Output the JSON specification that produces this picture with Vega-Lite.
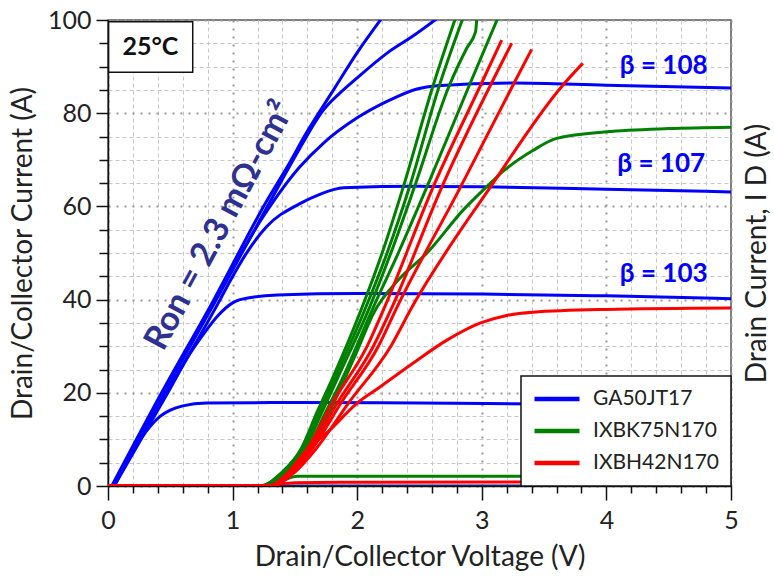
{
  "$schema": "https://vega.github.io/schema/vega-lite/v6.json",
  "width": 623,
  "height": 466,
  "autosize": {"type": "none"},
  "padding": {"left": 108, "top": 20, "right": 43, "bottom": 95},
  "background": "white",
  "config": {
    "font": "Lato",
    "view": {"stroke": "#555555", "strokeWidth": 1.5},
    "axis": {
      "labelFont": "Lato", "labelFontSize": 25, "labelColor": "#222222",
      "titleFont": "Lato", "titleFontSize": 28, "titleFontWeight": "normal", "titleColor": "#222222",
      "domainColor": "#111111", "domainWidth": 1.5, "tickColor": "#111111", "tickWidth": 1.5,
      "labelOverlap": false, "labelFlush": false
    },
    "legend": {"strokeWidth": 1.5}
  },
  "datasets": {
    "off": [{"x": 0, "y": 0.05}, {"x": 5, "y": 0.05}],
    "curves": [
      {"d": "GA50JT17", "c": "B1", "x": 0.05, "y": 0}, {"d": "GA50JT17", "c": "B1", "x": 0.3, "y": 11.5}, {"d": "GA50JT17", "c": "B1", "x": 0.42, "y": 15}, {"d": "GA50JT17", "c": "B1", "x": 0.5, "y": 16.3}, {"d": "GA50JT17", "c": "B1", "x": 0.6, "y": 17.2}, {"d": "GA50JT17", "c": "B1", "x": 0.79, "y": 17.8}, {"d": "GA50JT17", "c": "B1", "x": 1.5, "y": 17.9}, {"d": "GA50JT17", "c": "B1", "x": 2.5, "y": 17.8}, {"d": "GA50JT17", "c": "B1", "x": 3.5, "y": 17.6}, {"d": "GA50JT17", "c": "B1", "x": 5, "y": 17.4},
      {"d": "GA50JT17", "c": "B2", "x": 0.05, "y": 0}, {"d": "GA50JT17", "c": "B2", "x": 0.48, "y": 20}, {"d": "GA50JT17", "c": "B2", "x": 0.66, "y": 28.5}, {"d": "GA50JT17", "c": "B2", "x": 0.75, "y": 32}, {"d": "GA50JT17", "c": "B2", "x": 0.88, "y": 36.5}, {"d": "GA50JT17", "c": "B2", "x": 1.0, "y": 39.3}, {"d": "GA50JT17", "c": "B2", "x": 1.06, "y": 40}, {"d": "GA50JT17", "c": "B2", "x": 1.36, "y": 41}, {"d": "GA50JT17", "c": "B2", "x": 2, "y": 41.3}, {"d": "GA50JT17", "c": "B2", "x": 3, "y": 41.2}, {"d": "GA50JT17", "c": "B2", "x": 4, "y": 40.8}, {"d": "GA50JT17", "c": "B2", "x": 5, "y": 40.2},
      {"d": "GA50JT17", "c": "B3", "x": 0.04, "y": 0}, {"d": "GA50JT17", "c": "B3", "x": 0.47, "y": 20}, {"d": "GA50JT17", "c": "B3", "x": 0.9, "y": 40}, {"d": "GA50JT17", "c": "B3", "x": 0.98, "y": 44}, {"d": "GA50JT17", "c": "B3", "x": 1.1, "y": 49.5}, {"d": "GA50JT17", "c": "B3", "x": 1.27, "y": 55.6}, {"d": "GA50JT17", "c": "B3", "x": 1.54, "y": 60.6}, {"d": "GA50JT17", "c": "B3", "x": 1.7, "y": 62.6}, {"d": "GA50JT17", "c": "B3", "x": 1.89, "y": 64}, {"d": "GA50JT17", "c": "B3", "x": 2.5, "y": 64.3}, {"d": "GA50JT17", "c": "B3", "x": 3, "y": 64.2}, {"d": "GA50JT17", "c": "B3", "x": 4, "y": 63.7}, {"d": "GA50JT17", "c": "B3", "x": 5, "y": 63.1},
      {"d": "GA50JT17", "c": "B4", "x": 0.04, "y": 0}, {"d": "GA50JT17", "c": "B4", "x": 0.44, "y": 20}, {"d": "GA50JT17", "c": "B4", "x": 0.86, "y": 40}, {"d": "GA50JT17", "c": "B4", "x": 1.25, "y": 58}, {"d": "GA50JT17", "c": "B4", "x": 1.54, "y": 68.5}, {"d": "GA50JT17", "c": "B4", "x": 1.73, "y": 73.6}, {"d": "GA50JT17", "c": "B4", "x": 2, "y": 79}, {"d": "GA50JT17", "c": "B4", "x": 2.26, "y": 82.8}, {"d": "GA50JT17", "c": "B4", "x": 2.48, "y": 85.2}, {"d": "GA50JT17", "c": "B4", "x": 2.64, "y": 85.9}, {"d": "GA50JT17", "c": "B4", "x": 3.25, "y": 86.5}, {"d": "GA50JT17", "c": "B4", "x": 4, "y": 86}, {"d": "GA50JT17", "c": "B4", "x": 5, "y": 85.4},
      {"d": "GA50JT17", "c": "B5", "x": 0.04, "y": 0}, {"d": "GA50JT17", "c": "B5", "x": 0.45, "y": 20}, {"d": "GA50JT17", "c": "B5", "x": 0.87, "y": 40}, {"d": "GA50JT17", "c": "B5", "x": 1.3, "y": 61}, {"d": "GA50JT17", "c": "B5", "x": 1.54, "y": 72.5}, {"d": "GA50JT17", "c": "B5", "x": 1.73, "y": 80.7}, {"d": "GA50JT17", "c": "B5", "x": 1.86, "y": 84.3}, {"d": "GA50JT17", "c": "B5", "x": 2, "y": 87.6}, {"d": "GA50JT17", "c": "B5", "x": 2.24, "y": 92.9}, {"d": "GA50JT17", "c": "B5", "x": 2.45, "y": 96.6}, {"d": "GA50JT17", "c": "B5", "x": 2.64, "y": 100.3},
      {"d": "GA50JT17", "c": "B6", "x": 0.03, "y": 0}, {"d": "GA50JT17", "c": "B6", "x": 0.43, "y": 20}, {"d": "GA50JT17", "c": "B6", "x": 0.85, "y": 40}, {"d": "GA50JT17", "c": "B6", "x": 1.27, "y": 61}, {"d": "GA50JT17", "c": "B6", "x": 1.46, "y": 69.5}, {"d": "GA50JT17", "c": "B6", "x": 1.59, "y": 75.7}, {"d": "GA50JT17", "c": "B6", "x": 1.81, "y": 85}, {"d": "GA50JT17", "c": "B6", "x": 2, "y": 93}, {"d": "GA50JT17", "c": "B6", "x": 2.2, "y": 100.5},
      {"d": "IXBK75N170", "c": "G6", "x": 0, "y": 0}, {"d": "IXBK75N170", "c": "G6", "x": 1.25, "y": 0}, {"d": "IXBK75N170", "c": "G6", "x": 1.4, "y": 1.2}, {"d": "IXBK75N170", "c": "G6", "x": 1.52, "y": 2.1}, {"d": "IXBK75N170", "c": "G6", "x": 2, "y": 2.1}, {"d": "IXBK75N170", "c": "G6", "x": 3, "y": 2.1}, {"d": "IXBK75N170", "c": "G6", "x": 5, "y": 2.1},
      {"d": "IXBK75N170", "c": "G1", "x": 0, "y": 0}, {"d": "IXBK75N170", "c": "G1", "x": 1.22, "y": 0}, {"d": "IXBK75N170", "c": "G1", "x": 1.4, "y": 3}, {"d": "IXBK75N170", "c": "G1", "x": 1.55, "y": 8}, {"d": "IXBK75N170", "c": "G1", "x": 1.68, "y": 16}, {"d": "IXBK75N170", "c": "G1", "x": 1.8, "y": 23}, {"d": "IXBK75N170", "c": "G1", "x": 2.04, "y": 38.4}, {"d": "IXBK75N170", "c": "G1", "x": 2.2, "y": 50}, {"d": "IXBK75N170", "c": "G1", "x": 2.37, "y": 64.2}, {"d": "IXBK75N170", "c": "G1", "x": 2.61, "y": 86}, {"d": "IXBK75N170", "c": "G1", "x": 2.79, "y": 100.5},
      {"d": "IXBK75N170", "c": "G2", "x": 0, "y": 0}, {"d": "IXBK75N170", "c": "G2", "x": 1.22, "y": 0}, {"d": "IXBK75N170", "c": "G2", "x": 1.4, "y": 3}, {"d": "IXBK75N170", "c": "G2", "x": 1.56, "y": 8}, {"d": "IXBK75N170", "c": "G2", "x": 1.7, "y": 16}, {"d": "IXBK75N170", "c": "G2", "x": 1.82, "y": 23}, {"d": "IXBK75N170", "c": "G2", "x": 2.07, "y": 38.4}, {"d": "IXBK75N170", "c": "G2", "x": 2.24, "y": 50}, {"d": "IXBK75N170", "c": "G2", "x": 2.42, "y": 64.2}, {"d": "IXBK75N170", "c": "G2", "x": 2.66, "y": 86}, {"d": "IXBK75N170", "c": "G2", "x": 2.85, "y": 100.5},
      {"d": "IXBK75N170", "c": "G3", "x": 0, "y": 0}, {"d": "IXBK75N170", "c": "G3", "x": 1.23, "y": 0}, {"d": "IXBK75N170", "c": "G3", "x": 1.42, "y": 3}, {"d": "IXBK75N170", "c": "G3", "x": 1.58, "y": 8}, {"d": "IXBK75N170", "c": "G3", "x": 1.72, "y": 16}, {"d": "IXBK75N170", "c": "G3", "x": 1.84, "y": 23}, {"d": "IXBK75N170", "c": "G3", "x": 2.1, "y": 38.4}, {"d": "IXBK75N170", "c": "G3", "x": 2.27, "y": 50}, {"d": "IXBK75N170", "c": "G3", "x": 2.46, "y": 64.2}, {"d": "IXBK75N170", "c": "G3", "x": 2.74, "y": 86}, {"d": "IXBK75N170", "c": "G3", "x": 2.88, "y": 94}, {"d": "IXBK75N170", "c": "G3", "x": 2.95, "y": 97.5}, {"d": "IXBK75N170", "c": "G3", "x": 2.96, "y": 100.5},
      {"d": "IXBK75N170", "c": "G4", "x": 0, "y": 0}, {"d": "IXBK75N170", "c": "G4", "x": 1.24, "y": 0}, {"d": "IXBK75N170", "c": "G4", "x": 1.43, "y": 3}, {"d": "IXBK75N170", "c": "G4", "x": 1.6, "y": 8}, {"d": "IXBK75N170", "c": "G4", "x": 1.75, "y": 16}, {"d": "IXBK75N170", "c": "G4", "x": 1.88, "y": 23}, {"d": "IXBK75N170", "c": "G4", "x": 2.13, "y": 38.4}, {"d": "IXBK75N170", "c": "G4", "x": 2.33, "y": 50}, {"d": "IXBK75N170", "c": "G4", "x": 2.56, "y": 64.2}, {"d": "IXBK75N170", "c": "G4", "x": 2.9, "y": 86}, {"d": "IXBK75N170", "c": "G4", "x": 3.13, "y": 100.5},
      {"d": "IXBK75N170", "c": "G5", "x": 0, "y": 0}, {"d": "IXBK75N170", "c": "G5", "x": 1.25, "y": 0}, {"d": "IXBK75N170", "c": "G5", "x": 1.45, "y": 3}, {"d": "IXBK75N170", "c": "G5", "x": 1.62, "y": 8}, {"d": "IXBK75N170", "c": "G5", "x": 1.78, "y": 16}, {"d": "IXBK75N170", "c": "G5", "x": 1.9, "y": 23}, {"d": "IXBK75N170", "c": "G5", "x": 2.0, "y": 29}, {"d": "IXBK75N170", "c": "G5", "x": 2.13, "y": 37}, {"d": "IXBK75N170", "c": "G5", "x": 2.34, "y": 44.5}, {"d": "IXBK75N170", "c": "G5", "x": 2.56, "y": 50}, {"d": "IXBK75N170", "c": "G5", "x": 2.85, "y": 59.2}, {"d": "IXBK75N170", "c": "G5", "x": 3.07, "y": 65}, {"d": "IXBK75N170", "c": "G5", "x": 3.17, "y": 67.5}, {"d": "IXBK75N170", "c": "G5", "x": 3.41, "y": 72}, {"d": "IXBK75N170", "c": "G5", "x": 3.6, "y": 74.6}, {"d": "IXBK75N170", "c": "G5", "x": 4, "y": 76}, {"d": "IXBK75N170", "c": "G5", "x": 4.5, "y": 76.7}, {"d": "IXBK75N170", "c": "G5", "x": 5, "y": 77},
      {"d": "IXBH42N170", "c": "R6", "x": 0, "y": 0}, {"d": "IXBH42N170", "c": "R6", "x": 1.25, "y": 0.1}, {"d": "IXBH42N170", "c": "R6", "x": 1.5, "y": 0.7}, {"d": "IXBH42N170", "c": "R6", "x": 2, "y": 0.8}, {"d": "IXBH42N170", "c": "R6", "x": 5, "y": 0.9},
      {"d": "IXBH42N170", "c": "R5", "x": 0, "y": 0}, {"d": "IXBH42N170", "c": "R5", "x": 1.3, "y": 0}, {"d": "IXBH42N170", "c": "R5", "x": 1.45, "y": 3}, {"d": "IXBH42N170", "c": "R5", "x": 1.57, "y": 7}, {"d": "IXBH42N170", "c": "R5", "x": 1.78, "y": 12}, {"d": "IXBH42N170", "c": "R5", "x": 2, "y": 17.8}, {"d": "IXBH42N170", "c": "R5", "x": 2.18, "y": 21.2}, {"d": "IXBH42N170", "c": "R5", "x": 2.45, "y": 26.4}, {"d": "IXBH42N170", "c": "R5", "x": 2.72, "y": 31.3}, {"d": "IXBH42N170", "c": "R5", "x": 2.99, "y": 35}, {"d": "IXBH42N170", "c": "R5", "x": 3.2, "y": 36.6}, {"d": "IXBH42N170", "c": "R5", "x": 3.41, "y": 37.3}, {"d": "IXBH42N170", "c": "R5", "x": 4, "y": 37.9}, {"d": "IXBH42N170", "c": "R5", "x": 5, "y": 38.2},
      {"d": "IXBH42N170", "c": "R1", "x": 0, "y": 0}, {"d": "IXBH42N170", "c": "R1", "x": 1.28, "y": 0}, {"d": "IXBH42N170", "c": "R1", "x": 1.45, "y": 3}, {"d": "IXBH42N170", "c": "R1", "x": 1.6, "y": 8}, {"d": "IXBH42N170", "c": "R1", "x": 1.8, "y": 17.8}, {"d": "IXBH42N170", "c": "R1", "x": 2.08, "y": 30}, {"d": "IXBH42N170", "c": "R1", "x": 2.22, "y": 38.4}, {"d": "IXBH42N170", "c": "R1", "x": 2.61, "y": 64.2}, {"d": "IXBH42N170", "c": "R1", "x": 2.99, "y": 86}, {"d": "IXBH42N170", "c": "R1", "x": 3.16, "y": 95.7},
      {"d": "IXBH42N170", "c": "R2", "x": 0, "y": 0}, {"d": "IXBH42N170", "c": "R2", "x": 1.29, "y": 0}, {"d": "IXBH42N170", "c": "R2", "x": 1.46, "y": 3}, {"d": "IXBH42N170", "c": "R2", "x": 1.62, "y": 8}, {"d": "IXBH42N170", "c": "R2", "x": 1.84, "y": 17.8}, {"d": "IXBH42N170", "c": "R2", "x": 2.13, "y": 30}, {"d": "IXBH42N170", "c": "R2", "x": 2.28, "y": 38.4}, {"d": "IXBH42N170", "c": "R2", "x": 2.68, "y": 64.2}, {"d": "IXBH42N170", "c": "R2", "x": 3.24, "y": 95},
      {"d": "IXBH42N170", "c": "R3", "x": 0, "y": 0}, {"d": "IXBH42N170", "c": "R3", "x": 1.3, "y": 0}, {"d": "IXBH42N170", "c": "R3", "x": 1.48, "y": 3}, {"d": "IXBH42N170", "c": "R3", "x": 1.64, "y": 8}, {"d": "IXBH42N170", "c": "R3", "x": 1.87, "y": 17.8}, {"d": "IXBH42N170", "c": "R3", "x": 2.17, "y": 30}, {"d": "IXBH42N170", "c": "R3", "x": 2.32, "y": 38.4}, {"d": "IXBH42N170", "c": "R3", "x": 2.83, "y": 64.2}, {"d": "IXBH42N170", "c": "R3", "x": 3.25, "y": 86}, {"d": "IXBH42N170", "c": "R3", "x": 3.4, "y": 93.7},
      {"d": "IXBH42N170", "c": "R4", "x": 0, "y": 0}, {"d": "IXBH42N170", "c": "R4", "x": 1.3, "y": 0}, {"d": "IXBH42N170", "c": "R4", "x": 1.5, "y": 3}, {"d": "IXBH42N170", "c": "R4", "x": 1.67, "y": 8}, {"d": "IXBH42N170", "c": "R4", "x": 1.93, "y": 17.8}, {"d": "IXBH42N170", "c": "R4", "x": 2.27, "y": 30}, {"d": "IXBH42N170", "c": "R4", "x": 2.44, "y": 38.4}, {"d": "IXBH42N170", "c": "R4", "x": 3.07, "y": 64.2}, {"d": "IXBH42N170", "c": "R4", "x": 3.65, "y": 86}, {"d": "IXBH42N170", "c": "R4", "x": 3.81, "y": 90.7}
    ]
  },
  "resolve": {"axis": {"x": "independent", "y": "independent"}},
  "layer": [
    {
      "data": {"name": "off"},
      "mark": {"type": "line", "color": "#1a1a7a", "strokeWidth": 2.5, "clip": true},
      "encoding": {
        "x": {"field": "x", "type": "quantitative",
          "axis": {"orient": "bottom", "title": null, "labels": false, "domain": false,
            "values": [0.2, 0.4, 0.6, 0.8, 1.2, 1.4, 1.6, 1.8, 2.2, 2.4, 2.6, 2.8, 3.2, 3.4, 3.6, 3.8, 4.2, 4.4, 4.6, 4.8],
            "tickSize": 7, "grid": true, "gridColor": "#c8c8c8", "gridDash": [4, 3], "gridWidth": 1}},
        "y": {"field": "y", "type": "quantitative", "axis": {"orient": "right", "title": "Drain Current, I D (A)", "titleAngle": 270, "titleBaseline": "top", "titlePadding": 12, "domain": false, "ticks": false, "labels": false, "grid": false}}
      }
    },
    {
      "data": {"name": "curves"},
      "mark": {"type": "line", "strokeWidth": 3, "clip": true, "interpolate": "monotone"},
      "encoding": {
        "x": {"field": "x", "type": "quantitative", "scale": {"domain": [0, 5], "nice": false},
          "axis": {"orient": "bottom", "title": "Drain/Collector Voltage (V)", "values": [0, 1, 2, 3, 4, 5], "format": "d",
            "labelPadding": 8, "titlePadding": 10, "tickSize": 14,
            "grid": true, "gridColor": "#999999", "gridDash": [2, 6], "gridWidth": 2}},
        "y": {"field": "y", "type": "quantitative", "scale": {"domain": [0, 100], "nice": false},
          "axis": {"orient": "left", "title": "Drain/Collector Current (A)", "values": [0, 20, 40, 60, 80, 100], "format": "d",
            "labelPadding": 5, "titlePadding": 10, "tickSize": 12,
            "grid": true, "gridColor": "#999999", "gridDash": [2, 6], "gridWidth": 2}},
        "color": {"field": "d", "type": "nominal",
          "scale": {"domain": ["GA50JT17", "IXBK75N170", "IXBH42N170"], "range": ["#0000ff", "#008000", "#ff0000"]},
          "legend": {"title": null, "orient": "bottom-right", "offset": 0, "padding": 11,
            "symbolType": "stroke", "symbolSize": 2025, "symbolStrokeWidth": 4.5,
            "labelFontSize": 21, "labelFont": "Lato", "labelColor": "#222222", "labelOffset": 11,
            "rowPadding": 8, "clipHeight": 24, "strokeColor": "#111111", "fillColor": "white"}},
        "detail": {"field": "c", "type": "nominal"}
      }
    },
    {
      "data": {"values": [{}]},
      "mark": {"type": "rect", "fill": "white", "stroke": "#111111", "strokeWidth": 1.5},
      "encoding": {
        "x": {"datum": 0.005, "type": "quantitative", "axis": null},
        "x2": {"datum": 0.68},
        "y": {"datum": 88.8, "type": "quantitative",
          "axis": {"orient": "left", "title": null, "labels": false, "domain": false,
            "values": [5, 10, 15, 25, 30, 35, 45, 50, 55, 65, 70, 75, 85, 90, 95],
            "tickSize": 9, "grid": true, "gridColor": "#c8c8c8", "gridDash": [4, 3], "gridWidth": 1}},
        "y2": {"datum": 99.6}
      }
    },
    {
      "data": {"values": [{}]},
      "mark": {"type": "text", "text": "25°C", "fontSize": 25, "fontWeight": "bold", "font": "Lato", "color": "#111111", "align": "center", "baseline": "middle"},
      "encoding": {
        "x": {"datum": 0.34, "type": "quantitative", "axis": null},
        "y": {"datum": 94.2, "type": "quantitative", "axis": null}
      }
    },
    {
      "data": {"values": [{}]},
      "mark": {"type": "text", "text": "Ron = 2.3 mΩ-cm²", "fontSize": 34, "fontWeight": "bold", "font": "Lato", "color": "#2e3192", "align": "center", "baseline": "middle", "angle": 298.4},
      "encoding": {
        "x": {"datum": 0.9, "type": "quantitative", "axis": null},
        "y": {"datum": 55.8, "type": "quantitative", "axis": null}
      }
    },
    {
      "data": {"values": [{}]},
      "mark": {"type": "text", "text": "β = 108", "fontSize": 26, "fontWeight": "bold", "font": "Lato", "color": "#0000ff", "align": "center", "baseline": "middle"},
      "encoding": {
        "x": {"datum": 4.46, "type": "quantitative", "axis": null},
        "y": {"datum": 90.1, "type": "quantitative", "axis": null}
      }
    },
    {
      "data": {"values": [{}]},
      "mark": {"type": "text", "text": "β = 107", "fontSize": 26, "fontWeight": "bold", "font": "Lato", "color": "#0000ff", "align": "center", "baseline": "middle"},
      "encoding": {
        "x": {"datum": 4.44, "type": "quantitative", "axis": null},
        "y": {"datum": 69.1, "type": "quantitative", "axis": null}
      }
    },
    {
      "data": {"values": [{}]},
      "mark": {"type": "text", "text": "β = 103", "fontSize": 26, "fontWeight": "bold", "font": "Lato", "color": "#0000ff", "align": "center", "baseline": "middle"},
      "encoding": {
        "x": {"datum": 4.46, "type": "quantitative", "axis": null},
        "y": {"datum": 45.5, "type": "quantitative", "axis": null}
      }
    }
  ]
}
